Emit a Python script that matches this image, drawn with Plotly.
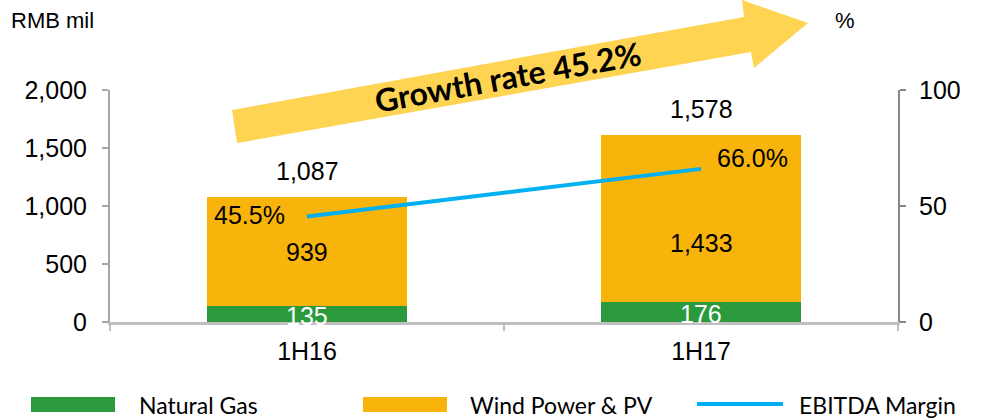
import plotly.graph_objects as go

# ---- data ----
periods = ["1H16", "1H17"]
natural_gas = [135, 176]
wind_pv = [939, 1433]
totals_label = ["1,087", "1,578"]
ebitda_margin = [45.5, 66.0]
series_names = ["Natural Gas", "Wind Power & PV", "EBITDA Margin"]
growth_text = "Growth rate 45.2%"

GREEN = "#2a9a3c"
YELLOW = "#f8b40a"
BLUE = "#00b0f0"
ARROW = "#ffd452"
W, H = 989, 420
L, R, T, B = 110, 91, 90, 98
PW, PH = W - L - R, H - T - B

def px2paper(x, y):
    return (x - L) / PW, (H - B - y) / PH

fig = go.Figure()
fig.add_trace(go.Bar(x=periods, y=natural_gas, name=series_names[0],
                     marker=dict(color=GREEN, line=dict(width=0)), width=0.51,
                     showlegend=False, hoverinfo="skip"))
fig.add_trace(go.Bar(x=periods, y=wind_pv, name=series_names[1],
                     marker=dict(color=YELLOW, line=dict(width=0)), width=0.51,
                     showlegend=False, hoverinfo="skip"))
fig.add_trace(go.Scatter(x=periods, y=ebitda_margin, name=series_names[2],
                         mode="lines", line=dict(color=BLUE, width=4),
                         yaxis="y2", showlegend=False, hoverinfo="skip"))

FONT = "Liberation Sans"
FS = 25
ann = []
totals = [g + w for g, w in zip(natural_gas, wind_pv)]
wind_shift = [0, -25]
for i, p in enumerate(periods):
    ann.append(dict(x=p, y=totals[i], text=totals_label[i], showarrow=False,
                    yanchor="bottom", yshift=10, font=dict(size=FS, color="#000", family=FONT)))
    ann.append(dict(x=p, y=natural_gas[i] + wind_pv[i] / 2, text=f"{wind_pv[i]:,}",
                    showarrow=False, yshift=wind_shift[i],
                    font=dict(size=FS, color="#000", family=FONT)))
    ann.append(dict(x=p, y=natural_gas[i] / 2, text=f"{natural_gas[i]:,}",
                    showarrow=False, yshift=-2, font=dict(size=FS, color="#fff", family=FONT)))
# line labels
ann.append(dict(x=periods[0], y=ebitda_margin[0], yref="y2", text=f"{ebitda_margin[0]:.1f}%",
                showarrow=False, xanchor="right", xshift=-20, yshift=1,
                font=dict(size=FS, color="#000", family=FONT)))
ann.append(dict(x=periods[1], y=ebitda_margin[1], yref="y2", text=f"{ebitda_margin[1]:.1f}%",
                showarrow=False, xanchor="left", xshift=14, yshift=11,
                font=dict(size=FS, color="#000", family=FONT)))

# axis titles
ann.append(dict(xref="paper", yref="paper", x=px2paper(9, 0)[0], y=px2paper(0, 20)[1],
                text="RMB mil", showarrow=False, xanchor="left", yanchor="middle",
                font=dict(size=22, color="#000", family=FONT)))
ann.append(dict(xref="paper", yref="paper", x=px2paper(845, 0)[0], y=px2paper(0, 20)[1],
                text="%", showarrow=False, xanchor="center", yanchor="middle",
                font=dict(size=22, color="#000", family=FONT)))

# growth arrow
arrow_px = [(232, 110), (744, 17), (742, 0), (808, 23), (754, 68), (751, 52), (237, 143)]
path = "M " + " L ".join(f"{px2paper(x, y)[0]:.5f},{px2paper(x, y)[1]:.5f}" for x, y in arrow_px) + " Z"
shapes = [dict(type="path", xref="paper", yref="paper", path=path,
               fillcolor=ARROW, line=dict(width=0), layer="below")]
cx, cy = px2paper(508, 77)
ann.append(dict(xref="paper", yref="paper", x=cx, y=cy, text=f"<b>{growth_text}</b>",
                showarrow=False, textangle=-10.3, xanchor="center", yanchor="middle",
                font=dict(size=32, color="#000", family="Lato")))

# custom legend
LEG_FONT = "Lato"
legend_items = [("rect", GREEN, 31, 115, 137), ("rect", YELLOW, 363, 447, 468), ("line", BLUE, 697, 783, 797)]
for (kind, col, x0, x1, tx), name in zip(legend_items, series_names):
    if kind == "rect":
        a0 = px2paper(x0, 397); a1 = px2paper(x1, 412)
        shapes.append(dict(type="rect", xref="paper", yref="paper", x0=a0[0], y0=a0[1],
                           x1=a1[0], y1=a1[1], fillcolor=col, line=dict(width=0)))
    else:
        a0 = px2paper(x0, 404); a1 = px2paper(x1, 404)
        shapes.append(dict(type="line", xref="paper", yref="paper", x0=a0[0], y0=a0[1],
                           x1=a1[0], y1=a1[1], line=dict(color=col, width=4)))
    tp = px2paper(tx, 405)
    ann.append(dict(xref="paper", yref="paper", x=tp[0], y=tp[1], text=name, showarrow=False,
                    xanchor="left", yanchor="middle",
                    font=dict(size=23, color="#000", family=LEG_FONT)))

fig.update_layout(
    width=W, height=H, margin=dict(l=L, r=R, t=T, b=B),
    barmode="stack", plot_bgcolor="#fff", paper_bgcolor="#fff",
    annotations=ann, shapes=shapes, hovermode=False,
    xaxis=dict(range=[-0.5, 1.5], showline=True, linecolor="#bfbfbf", linewidth=2.5,
               ticks="outside", tickson="boundaries", ticklen=6, tickcolor="#bfbfbf", tickwidth=2,
               ticklabelstandoff=5,
               tickfont=dict(size=FS, color="#000", family=FONT), showgrid=False, zeroline=False),
    yaxis=dict(range=[0, 2000], tickvals=[0, 500, 1000, 1500, 2000], tickformat=",",
               showline=True, linecolor="#a6a6a6", linewidth=2, ticks="outside", ticklen=6,
               tickcolor="#a6a6a6", tickwidth=2, showgrid=False, zeroline=False,
               ticklabelstandoff=10,
               tickfont=dict(size=FS, color="#000", family=FONT)),
    yaxis2=dict(range=[0, 100], tickvals=[0, 50, 100], overlaying="y", side="right",
                showline=True, linecolor="#868686", linewidth=2, ticks="outside", ticklen=6,
                tickcolor="#868686", tickwidth=2, showgrid=False, zeroline=False,
                ticklabelstandoff=8,
                tickfont=dict(size=FS, color="#000", family=FONT)),
)
fig.write_html("out.html", config={"displayModeBar": False},
               post_script="document.body.style.margin='0';document.body.style.overflow='hidden';")
